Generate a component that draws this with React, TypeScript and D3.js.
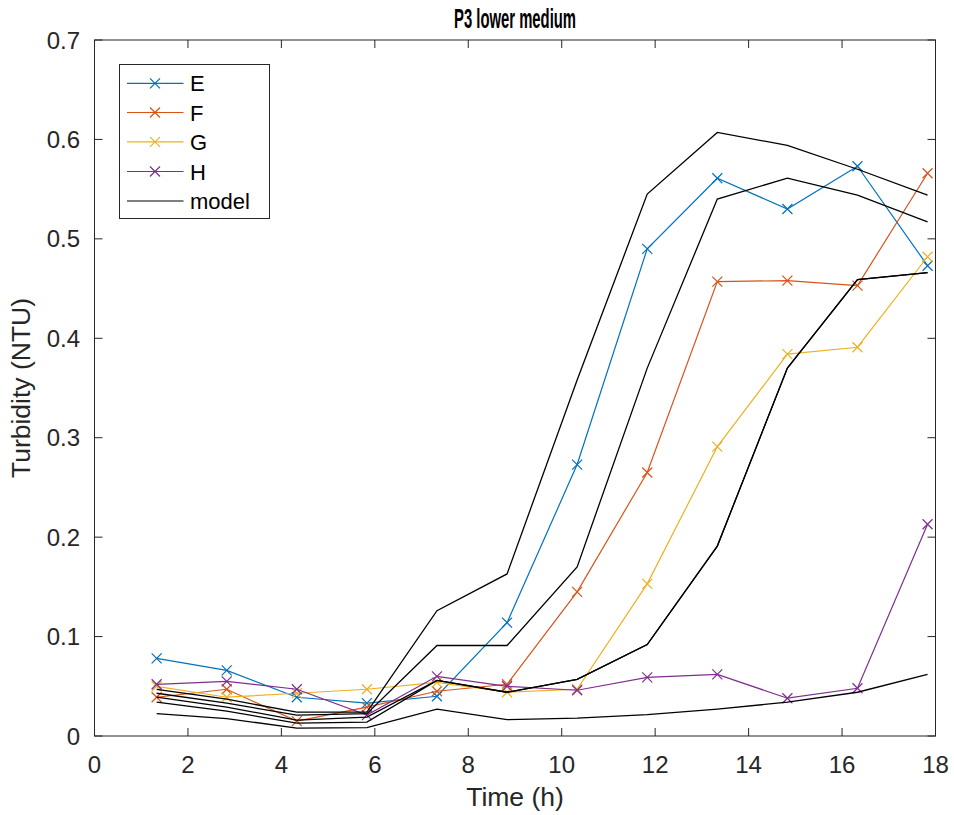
import React from "react";
import * as d3 from "d3";

const times = [1.33, 2.83, 4.33, 5.83, 7.33, 8.83, 10.33, 11.83, 13.33, 14.83, 16.33, 17.83];

const seriesNames = ["E", "F", "G", "H"];
const seriesColors = ["#0072BD", "#D95319", "#EDB120", "#7E2F8E"];

const valuesE = [0.078, 0.066, 0.039, 0.033, 0.040, 0.114, 0.273, 0.490, 0.561, 0.530, 0.573, 0.473];
const valuesF = [0.039, 0.047, 0.015, 0.029, 0.045, 0.052, 0.145, 0.265, 0.457, 0.458, 0.453, 0.566];
const valuesG = [0.050, 0.039, 0.043, 0.047, 0.054, 0.044, 0.047, 0.153, 0.291, 0.384, 0.391, 0.482];
const valuesH = [0.052, 0.055, 0.047, 0.021, 0.060, 0.050, 0.046, 0.059, 0.062, 0.038, 0.048, 0.213];

const modelA = [0.047, 0.037, 0.024, 0.024, 0.126, 0.163, 0.358, 0.545, 0.607, 0.594, 0.570, 0.544];
const modelB = [0.043, 0.033, 0.021, 0.0225, 0.091, 0.091, 0.170, 0.370, 0.540, 0.561, 0.544, 0.517];
const modelC = [0.039, 0.029, 0.016, 0.019, 0.056, 0.044, 0.057, 0.092, 0.191, 0.370, 0.459, 0.466];
const modelD = [0.034, 0.025, 0.013, 0.014, 0.056, 0.044, 0.057, 0.092, 0.191, 0.370, 0.459, 0.466];
const modelE = [0.0225, 0.0175, 0.008, 0.0085, 0.027, 0.0165, 0.018, 0.0215, 0.027, 0.034, 0.044, 0.062];

const xTicks = [0, 2, 4, 6, 8, 10, 12, 14, 16, 18];
const yTicks = [0, 0.1, 0.2, 0.3, 0.4, 0.5, 0.6, 0.7];

const W = 954;
const H = 815;
const L = 94.5, R = 935.5, T = 40, B = 736;
const FONT = "'Liberation Sans', Arial, Helvetica, sans-serif";
const AX = "#262626";

export default function App() {
  const x = d3.scaleLinear().domain([0, 18]).range([L, R]);
  const y = d3.scaleLinear().domain([0, 0.7]).range([B, T]);
  const series = [valuesE, valuesF, valuesG, valuesH];
  const models = [modelA, modelB, modelC, modelD, modelE];
  const line = d3
    .line<number>()
    .x((_, i) => x(times[i]))
    .y((v) => y(v));

  const cross = (cx: number, cy: number, color: string, key: string) => (
    <path
      key={key}
      d={`M${cx - 5},${cy - 5}L${cx + 5},${cy + 5}M${cx - 5},${cy + 5}L${cx + 5},${cy - 5}`}
      stroke={color}
      strokeWidth={1.2}
      fill="none"
    />
  );

  const legendItems = [...seriesNames, "model"];
  const legendColors = [...seriesColors, "#000000"];
  const legendY = [83.3, 112.5, 141.8, 171.5, 201];
  const cx = (L + R) / 2;

  return (
    <svg width={W} height={H} style={{ display: "block", position: "absolute", left: 0, top: 0 }} fontFamily={FONT}>
      <rect x={0} y={0} width={W} height={H} fill="#ffffff" />
      {series.map((vals, si) => (
        <g key={"s" + si}>
          <path d={line(vals) || ""} fill="none" stroke={seriesColors[si]} strokeWidth={1.2} />
          {vals.map((v, i) => cross(x(times[i]), y(v), seriesColors[si], `m${si}-${i}`))}
        </g>
      ))}
      {models.map((vals, mi) => (
        <path key={"md" + mi} d={line(vals) || ""} fill="none" stroke="#000000" strokeWidth={1.3} />
      ))}
      <rect x={L} y={T} width={R - L} height={B - T} fill="none" stroke={AX} strokeWidth={1} />
      {xTicks.map((t) => (
        <g key={"xt" + t}>
          <line x1={x(t)} x2={x(t)} y1={B} y2={B - 8} stroke={AX} strokeWidth={1} />
          <line x1={x(t)} x2={x(t)} y1={T} y2={T + 8} stroke={AX} strokeWidth={1} />
          <text x={x(t)} y={773} textAnchor="middle" fontSize={24} fill={AX}>
            {t}
          </text>
        </g>
      ))}
      {yTicks.map((t) => (
        <g key={"yt" + t}>
          <line x1={L} x2={L + 8} y1={y(t)} y2={y(t)} stroke={AX} strokeWidth={1} />
          <line x1={R} x2={R - 8} y1={y(t)} y2={y(t)} stroke={AX} strokeWidth={1} />
          <text x={80} y={y(t) + 8.5} textAnchor="end" fontSize={24} fill={AX}>
            {t === 0 ? "0" : d3.format(".1f")(t)}
          </text>
        </g>
      ))}
      <text x={cx} y={806} textAnchor="middle" fontSize={26.5} fill={AX}>
        Time (h)
      </text>
      <text
        transform={`translate(30,${(T + B) / 2}) rotate(-90)`}
        textAnchor="middle"
        fontSize={26.5}
        fill={AX}
      >
        Turbidity (NTU)
      </text>
      <text
        transform={`translate(${cx},28) scale(0.55,1)`}
        textAnchor="middle"
        fontSize={27}
        fontWeight="bold"
        fill="#000000"
      >
        P3 lower medium
      </text>
      <rect x={119.5} y={64.5} width={150} height={154} fill="#ffffff" stroke={AX} strokeWidth={1} />
      {legendItems.map((name, i) => (
        <g key={"lg" + i}>
          <line x1={127} x2={183.5} y1={legendY[i]} y2={legendY[i]} stroke={legendColors[i]} strokeWidth={1.2} />
          {i < 4 ? cross(155, legendY[i], legendColors[i], "lm" + i) : null}
          <text x={190} y={legendY[i] + 8} fontSize={22} fill="#000000">
            {name}
          </text>
        </g>
      ))}
    </svg>
  );
}
